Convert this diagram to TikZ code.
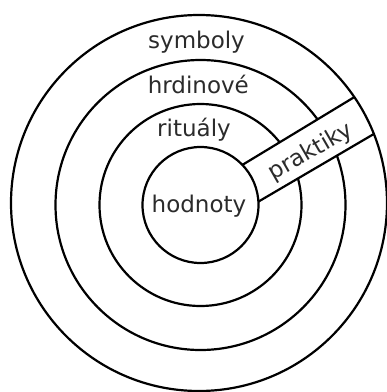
\documentclass[tikz,border=0pt]{standalone}
\usepackage{fontspec}
\setmainfont{DejaVu Sans}
\definecolor{txtgray}{HTML}{2B2B2B}
\begin{document}
\begin{tikzpicture}[x=1pt,y=-1pt,
  ring/.style={line width=2.2pt,draw=black},
  lbl/.style={text=txtgray,font=\fontsize{23}{27}\selectfont,inner sep=0pt}]
\useasboundingbox (0,0) rectangle (387,392);
\coordinate (c) at (200.5,205);
\coordinate (co) at (199,203);
\draw[ring] (c) circle[radius=145];
\draw[ring] (c) circle[radius=101];
\begin{scope}[even odd rule]
  \clip (co) circle[radius=188] (c) circle[radius=58];
  \coordinate (u1) at (212,183.3);
  \coordinate (u2) at (388,76.7);
  \coordinate (l1) at (223.3,222.2);
  \coordinate (l2) at (410,112.8);
  \fill[white] (u1) -- (u2) -- (l2) -- (l1) -- cycle;
  \draw[ring] (u1) -- (u2);
  \draw[ring] (l1) -- (l2);
\end{scope}
\draw[ring] (c) circle[radius=58];
\draw[ring] (co) circle[radius=188];
\node[lbl,anchor=base] (sym) at (196.5,48) {symboly};
\node[lbl,anchor=base] (hrd) at (198.3,93) {hrdinové};
\node[lbl,anchor=base] (rit) at (194,136) {rituály};
\node[lbl,anchor=base] (hod) at (199,212) {hodnoty};
\node[lbl,rotate=30] (pra) at (311,152) {praktiky};
\end{tikzpicture}
\end{document}
